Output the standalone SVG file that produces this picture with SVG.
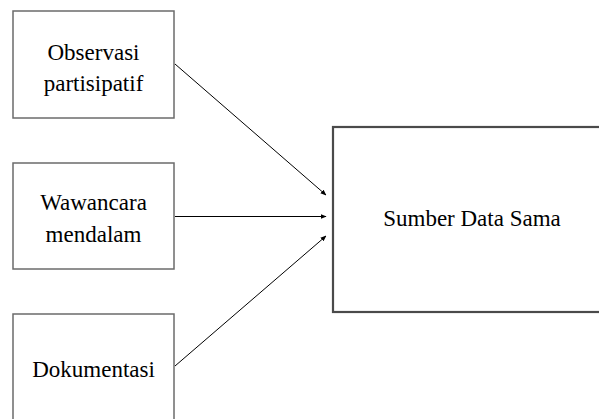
<svg xmlns="http://www.w3.org/2000/svg" width="599" height="419" viewBox="0 0 599 419">
<defs>
<style>
.box{fill:#fff;stroke:#6b6b6b;stroke-width:1.5}
.big{fill:#fff;stroke:#4a4a4a;stroke-width:2.2}
.lbl{font-family:"Liberation Serif","Times New Roman",serif;font-size:23px;fill:#000;text-anchor:middle}
.edge{stroke:#000;stroke-width:1;fill:none;marker-end:url(#ah)}
</style>
<marker id="ah" viewBox="0 0 10 10" refX="9" refY="5" markerWidth="6" markerHeight="6" orient="auto" markerUnits="userSpaceOnUse">
<path d="M0,1 L10,5 L0,9 z" fill="#000"/>
</marker>
</defs>
<rect width="599" height="419" fill="#fff"/>
<g id="observasi">
<rect class="box" x="13" y="11" width="161" height="107"/>
<text class="lbl" x="93.5" y="60">Observasi</text>
<text class="lbl" x="93.5" y="91">partisipatif</text>
</g>
<g id="wawancara">
<rect class="box" x="13" y="163" width="161" height="106"/>
<text class="lbl" x="93.5" y="210">Wawancara</text>
<text class="lbl" x="93.5" y="242">mendalam</text>
</g>
<g id="dokumentasi">
<rect class="box" x="13" y="314" width="161" height="120"/>
<text class="lbl" x="93.5" y="377">Dokumentasi</text>
</g>
<g id="sumber">
<rect class="big" x="333" y="127" width="275" height="185"/>
<text class="lbl" x="472" y="226">Sumber Data Sama</text>
</g>
<g id="connectors">
<line class="edge" x1="175" y1="64" x2="326" y2="195"/>
<line class="edge" x1="175" y1="216.5" x2="326" y2="216.5"/>
<line class="edge" x1="175" y1="366" x2="326" y2="236"/>
</g>
</svg>
